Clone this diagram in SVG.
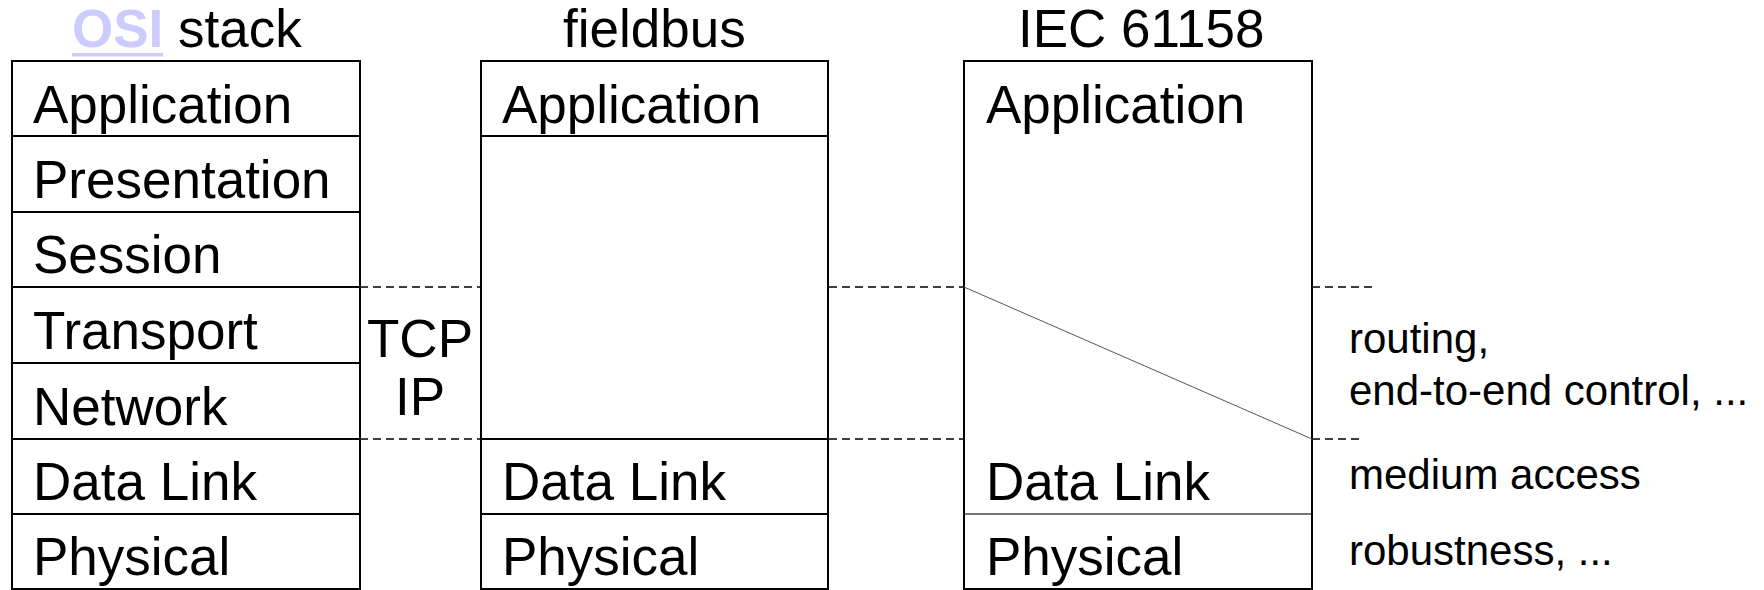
<svg xmlns="http://www.w3.org/2000/svg" width="1764" height="590" viewBox="0 0 1764 590">
<style>
.box{fill:#fff;stroke:#000;stroke-width:2}
.t{font-family:"Liberation Sans",Arial,sans-serif;font-size:53px;fill:#000}
.s{font-family:"Liberation Sans",Arial,sans-serif;font-size:42px;fill:#000}
.d{stroke:#000;stroke-width:1.6;stroke-dasharray:8 5;fill:none}
</style>
<rect width="1764" height="590" fill="#fff"/>
<g id="titles">
<text class="t" x="72" y="47"><tspan font-weight="bold" fill="#ccccff">OSI</tspan> stack</text>
<rect x="72" y="53" width="91" height="3.5" fill="#ccccff"/>
<text class="t" x="563" y="47">fieldbus</text>
<text class="t" x="1018" y="47">IEC 61158</text>
</g>
<g id="osi">
<g id="osi-application"><rect class="box" x="12" y="61" width="348" height="75"/><text class="t" x="33" y="123">Application</text></g>
<g id="osi-presentation"><rect class="box" x="12" y="136" width="348" height="76"/><text class="t" x="33" y="198">Presentation</text></g>
<g id="osi-session"><rect class="box" x="12" y="212" width="348" height="75"/><text class="t" x="33" y="273">Session</text></g>
<g id="osi-transport"><rect class="box" x="12" y="287" width="348" height="76"/><text class="t" x="33" y="349">Transport</text></g>
<g id="osi-network"><rect class="box" x="12" y="363" width="348" height="76"/><text class="t" x="33" y="425">Network</text></g>
<g id="osi-datalink"><rect class="box" x="12" y="439" width="348" height="75"/><text class="t" x="33" y="500">Data Link</text></g>
<g id="osi-physical"><rect class="box" x="12" y="514" width="348" height="75"/><text class="t" x="33" y="575">Physical</text></g>
</g>
<g id="tcpip">
<text class="t" x="420" y="357" text-anchor="middle" font-size="48">TCP</text>
<text class="t" x="420" y="415" text-anchor="middle" font-size="48">IP</text>
</g>
<g id="fieldbus">
<g id="fb-application"><rect class="box" x="481" y="61" width="347" height="75"/><text class="t" x="502" y="123">Application</text></g>
<g id="fb-empty"><rect class="box" x="481" y="136" width="347" height="303"/></g>
<g id="fb-datalink"><rect class="box" x="481" y="439" width="347" height="75"/><text class="t" x="502" y="500">Data Link</text></g>
<g id="fb-physical"><rect class="box" x="481" y="514" width="347" height="75"/><text class="t" x="502" y="575">Physical</text></g>
</g>
<g id="iec">
<g id="iec-upper"><rect class="box" x="964" y="61" width="348" height="453"/>
<text class="t" x="986" y="123">Application</text>
<line x1="964" y1="287" x2="1312" y2="439" stroke="#555" stroke-width="1"/>
<text class="t" x="986" y="500">Data Link</text></g>
<g id="iec-physical"><rect class="box" x="964" y="514" width="348" height="75"/>
<line x1="965" y1="514" x2="1311" y2="514" stroke="#777" stroke-width="2"/>
<text class="t" x="986" y="575">Physical</text></g>
</g>
<g id="notes">
<text class="s" x="1349" y="353">routing,</text>
<text class="s" x="1349" y="405">end-to-end control, ...</text>
<text class="s" x="1349" y="489">medium access</text>
<text class="s" x="1349" y="565">robustness, ...</text>
</g>
<g id="connectors">
<line class="d" x1="360" y1="287" x2="481" y2="287"/>
<line class="d" x1="829" y1="287" x2="964" y2="287"/>
<line class="d" x1="1312" y1="287" x2="1374" y2="287"/>
<line class="d" x1="360" y1="439" x2="481" y2="439"/>
<line class="d" x1="829" y1="439" x2="964" y2="439"/>
<line class="d" x1="1312" y1="439" x2="1359" y2="439"/>
</g>
</svg>
